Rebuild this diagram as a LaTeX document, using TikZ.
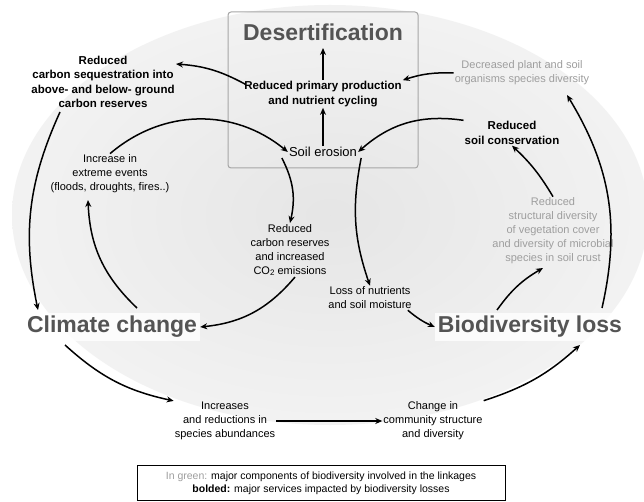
\documentclass[tikz,border=0pt]{standalone}
\usepackage{fontspec}
\setmainfont{Liberation Sans}
\usetikzlibrary{arrows.meta}
\definecolor{lightg}{gray}{0.62}
\definecolor{titleg}{gray}{0.33}
\tikzset{
  arr/.style={line width=1.5pt,-{Stealth[length=7pt,width=6pt]}},
  txt/.style={align=center,font=\fontsize{11}{14}\selectfont,inner sep=1pt},
  btxt/.style={txt,font=\fontsize{11.5}{14.5}\selectfont\bfseries},
  gtxt/.style={txt,text=lightg},
  big/.style={font=\fontsize{23}{26}\selectfont\bfseries,text=titleg,inner sep=3pt}
}
\begin{document}
\begin{tikzpicture}[x=1pt,y=-1pt]
\useasboundingbox (0,0) rectangle (644,502);
\fill[white] (0,0) rectangle (644,502);
\shade[inner color=gray!20,outer color=gray!10] (330,215) ellipse [x radius=318,y radius=210];
% desertification box
\draw[gray!70,line width=1pt,rounded corners=3pt] (228,12) rectangle (418,168);
\node[big] (des) at (323,32) {Desertification};
\node[btxt] (rpp) at (323,94) {Reduced primary production\\and nutrient cycling};
\node[txt,font=\fontsize{13}{15}\selectfont] (se) at (323,152) {Soil erosion};
% left
\node[btxt] (rcs) at (103,82) {Reduced\\carbon sequestration into\\above- and below- ground\\carbon reserves};
\node[txt] (iee) at (110,174) {Increase in\\extreme events\\(floods, droughts, fires..)};
\node[txt] (rcr) at (290,250) {Reduced\\carbon reserves\\and increased\\CO\raisebox{-0.3ex}{\footnotesize 2} emissions};
\node[big,fill=white,fill opacity=0.8,text opacity=1] (cc) at (112,327) {Climate change};
% right
\node[gtxt] (dps) at (522,73) {Decreased plant and soil\\organisms species diversity};
\node[btxt] (rsc) at (512,133) {Reduced\\soil conservation};
\node[gtxt] (rsd) at (553,231) {Reduced\\structural diversity\\of vegetation cover\\and diversity of microbial\\species in soil crust};
\node[txt] (lon) at (370,298) {Loss of nutrients\\and soil moisture};
\node[big,fill=white,fill opacity=0.8,text opacity=1] (bl) at (530,327) {Biodiversity loss};
% bottom
\node[txt] (irs) at (225,421) {Increases\\and reductions in\\species abundances};
\node[txt] (ccs) at (433,421) {Change in\\community structure\\and diversity};
% legend
\node[draw=black,line width=0.8pt,fill=white,minimum width=368pt,minimum height=35pt,align=center,font=\fontsize{10.5}{13}\selectfont,inner sep=1pt] (leg) at (321,483)
  {{\color{lightg}In green:} major components of biodiversity involved in the linkages\\\textbf{bolded:} major services impacted by biodiversity losses};
% arrows
\draw[arr] (se.north) -- (rpp.south);
\draw[arr] (rpp.north) -- (323,48);
\draw[arr] (rpp.north west) ++(2,4) to[bend right=12] (176,64);
\draw[arr] (dps.west) to[bend right=10] (rpp.north east);
\draw[arr] (rsc.north west) to[bend right=25] (se.east);
\draw[arr] (rsd.north) to[bend right=8] (rsc.south);
\draw[arr] (497,310) to[bend left=12] (543,268);
\draw[arr] (602,308) to[bend right=22] (567,95);
\draw[arr] (iee.north) to[bend left=40] (se.west);
\draw[arr] (137,308) to[bend left=22] (88,200);
\draw[arr] (60,112) to[bend right=18] (38,310);
\draw[arr] (se.south west) ++(-6,0) to[bend left=20] (rcr.north);
\draw[arr] (rcr.south) ++(5,0) to[bend left=22] (cc.east);
\draw[arr] (se.south east) ++(3,0) to[bend right=15] (lon.north);
\draw[arr] (lon.south east) ++(-5,0) to[bend right=8] (bl.west);
\draw[arr] (65,345) to[bend right=15] (irs.north west);
\draw[arr] (irs.east) -- (ccs.west);
\draw[arr] (ccs.north east) to[bend right=12] (580,345);
\end{tikzpicture}
\end{document}
